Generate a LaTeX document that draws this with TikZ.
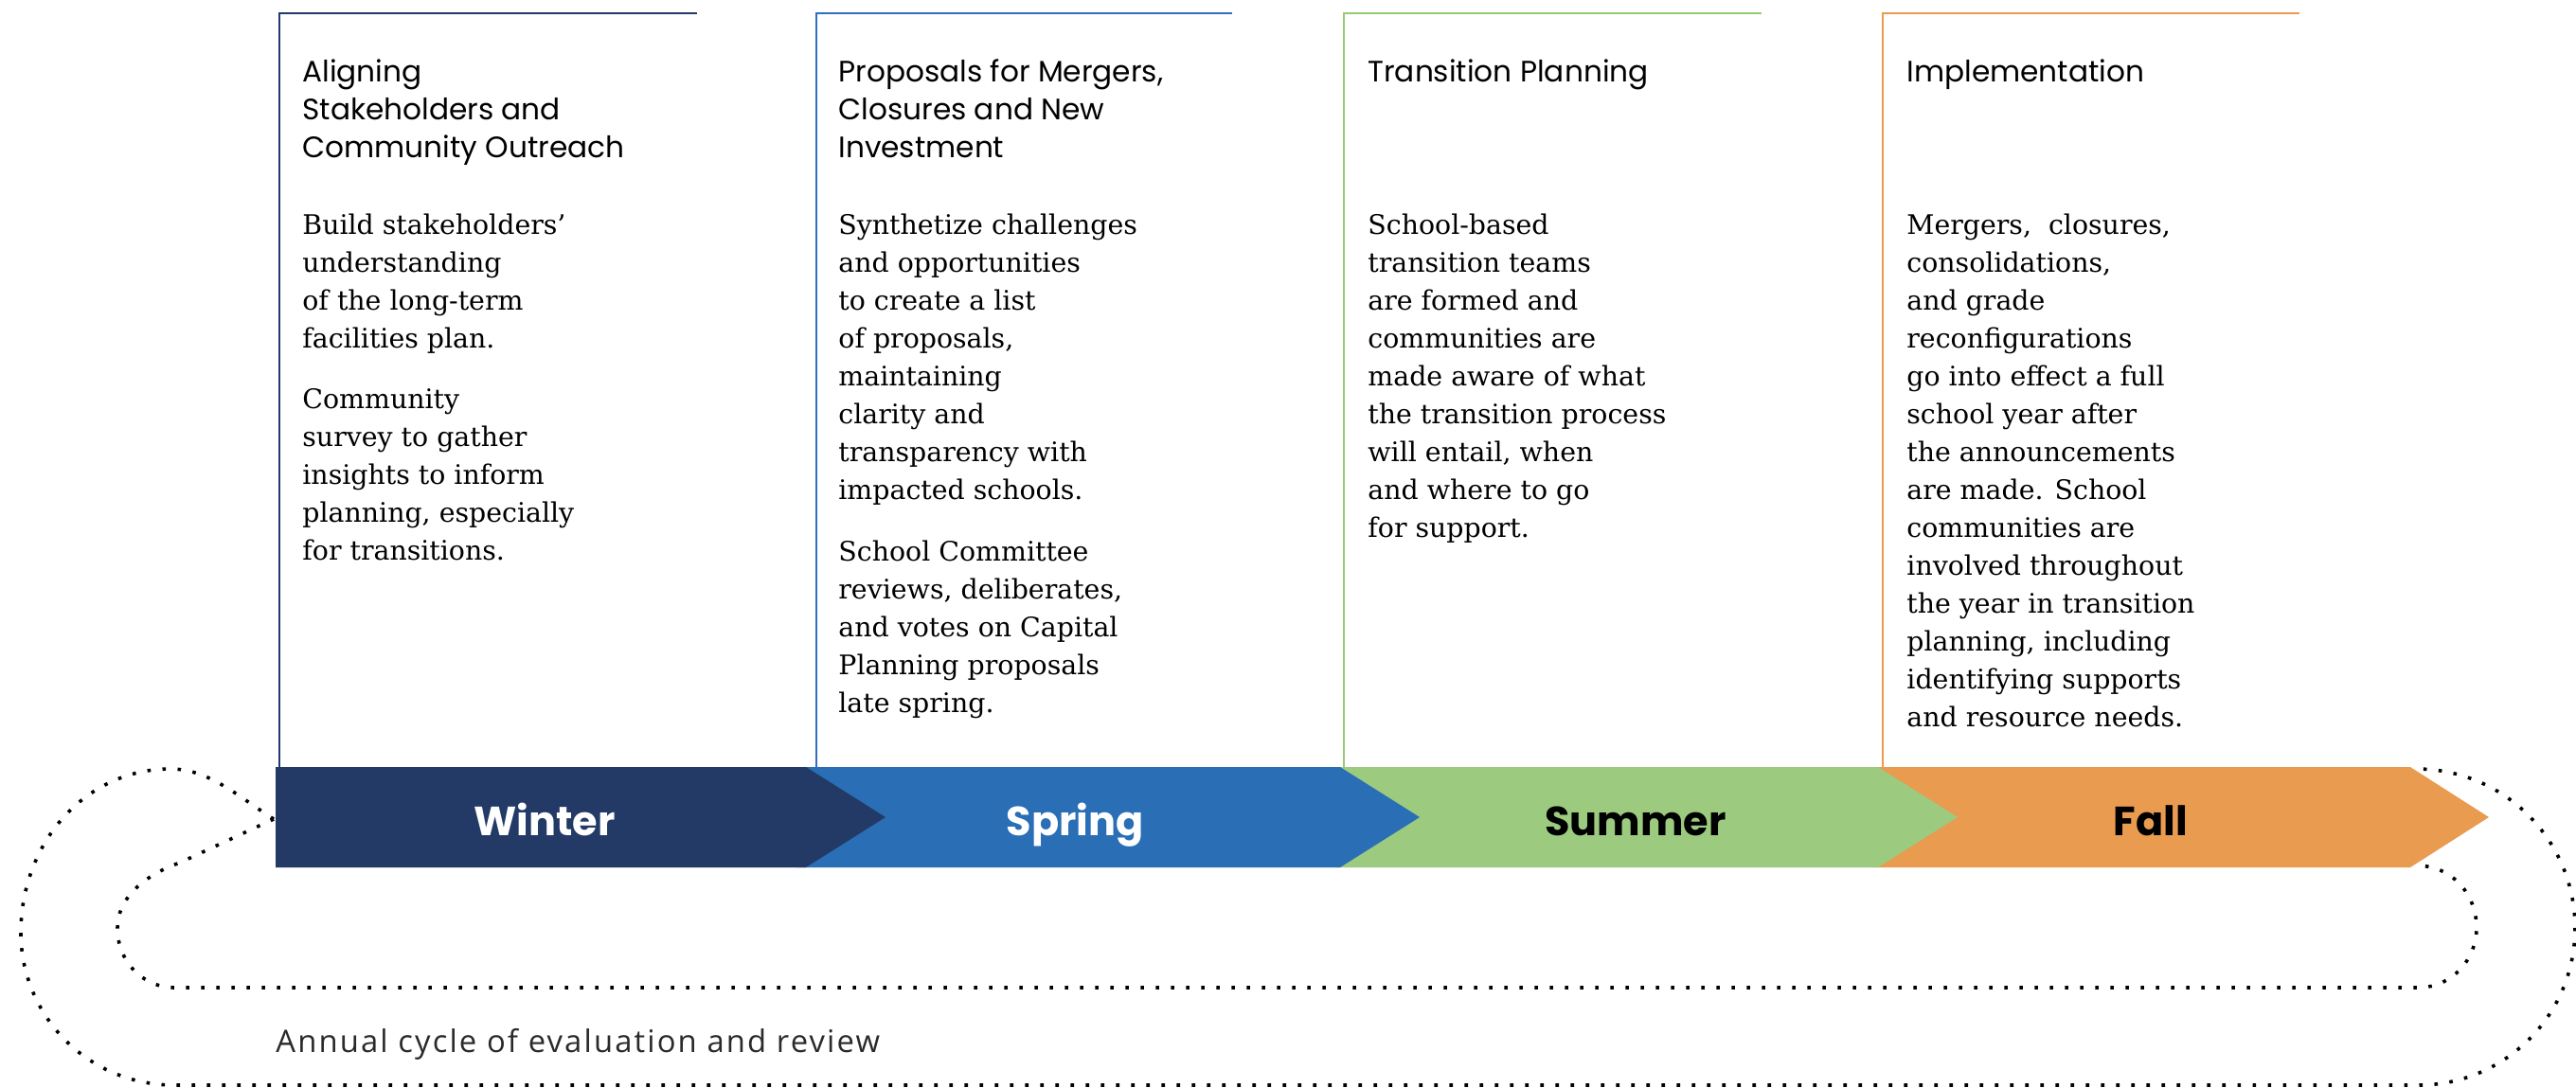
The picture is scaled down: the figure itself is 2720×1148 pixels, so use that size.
\documentclass[tikz,border=0pt]{standalone}
\usepackage{fontspec}
\setmainfont{DejaVu Serif}
\newfontfamily\headfont{Poppins}
\newfontfamily\notefont{Open Sans}[LetterSpace=6.5]
\definecolor{cwinter}{HTML}{233A66}
\definecolor{cspring}{HTML}{2A6EB5}
\definecolor{csummer}{HTML}{9CCA7F}
\definecolor{cfall}{HTML}{E99B50}
\definecolor{lwinter}{HTML}{1F3A6E}
\definecolor{lspring}{HTML}{2E70BE}
\definecolor{lsummer}{HTML}{95CC72}
\definecolor{lfall}{HTML}{EC9A4E}
\definecolor{notegray}{HTML}{2A2A2A}
\tikzset{
  boxline/.style={line width=1.2pt},
  headtxt/.style={anchor=north west, inner sep=0pt, align=left, font=\headfont\fontsize{15.6pt}{20pt}\selectfont},
  bodytxt/.style={anchor=north west, inner sep=0pt, align=left, font=\rmfamily\fontsize{14.2pt}{20pt}\selectfont},
  season/.style={anchor=base, inner sep=0pt, font=\headfont\bfseries\fontsize{21.5pt}{24pt}\selectfont},
  loop/.style={line width=1.8pt, dash pattern=on 1.8pt off 6.2pt},
}
\newcommand{\fl}{\rule{0pt}{12pt}}
\begin{document}
\begin{tikzpicture}[x=0.5pt, y=-0.5pt]
\useasboundingbox (0,0) rectangle (2720,1148);
% chevrons
\fill[cfall]   (1978,810) -- (2545,810) -- (2628,863) -- (2545,916) -- (1978,916) -- cycle;
\fill[csummer] (1410,810) -- (1983,810) -- (2067,863) -- (1983,916) -- (1410,916) -- cycle;
\fill[cspring] (840,810) -- (1415,810) -- (1499,863) -- (1415,916) -- (840,916) -- cycle;
\fill[cwinter] (291,810) -- (851,810) -- (935,863) -- (851,916) -- (291,916) -- cycle;
% coordinates
\coordinate (wl) at (289,865);
\coordinate (fb) at (2551,914);
\coordinate (ft) at (2551,812);
% box lines
\draw[boxline, lwinter] (736,14) -- (295,14) -- (295,810);
\draw[boxline, lspring] (1301,14) -- (862,14) -- (862,810);
\draw[boxline, lsummer] (1860,14) -- (1419,14) -- (1419,810);
\draw[boxline, lfall]   (2428,14) -- (1988,14) -- (1988,810);
% headings
\node[headtxt] (h1) at (319,62) {\fl Aligning\\Stakeholders and\\Community Outreach};
\node[headtxt] (h2) at (885,62) {\fl Proposals for Mergers,\\Closures and New\\Investment};
\node[headtxt] (h3) at (1444,62) {\fl Transition Planning};
\node[headtxt] (h4) at (2013,62) {\fl Implementation};
% bodies
\node[bodytxt] (b1) at (319,223) {\fl Build stakeholders’\\understanding\\of the long-term\\facilities plan.\\[12pt]Community\\survey to gather\\insights to inform\\planning, especially\\for transitions.};
\node[bodytxt] (b2) at (885,223) {\fl Synthetize challenges\\and opportunities\\to create a list\\of proposals,\\maintaining\\clarity and\\transparency with\\impacted schools.\\[12.5pt]School Committee\\reviews, deliberates,\\and votes on Capital\\Planning proposals\\late spring.};
\node[bodytxt] (b3) at (1444,223) {\fl School-based\\transition teams\\are formed and\\communities are\\made aware of what\\the transition process\\will entail, when\\and where to go\\for support.};
\node[bodytxt] (b4) at (2013,223) {\fl Mergers,\ \ closures,\\consolidations,\\and grade\\reconfigurations\\go into effect a full\\school year after\\the announcements\\are made. School\\communities are\\involved throughout\\the year in transition\\planning, including\\identifying supports\\and resource needs.};
% season labels
\node[season, text=white] (s1) at (575,882) {Winter};
\node[season, text=white] (s2) at (1135,882) {Spring};
\node[season, text=black] (s3) at (1727,882) {Summer};
\node[season, text=black] (s4) at (2271,882) {Fall};
% annual cycle
\node[anchor=base west, inner sep=0pt, text=notegray, font=\notefont\fontsize{16.4pt}{18pt}\selectfont] (note) at (291,1111) {Annual cycle of evaluation and review};
% dotted loops
\draw[loop] (wl) .. controls (250,840) and (220,812) .. (180,812)
  .. controls (90,812) and (22,890) .. (22,985)
  .. controls (22,1070) and (90,1146) .. (185,1146)
  -- (2553,1146)
  .. controls (2645,1146) and (2719,1072) .. (2719,980)
  .. controls (2719,888) and (2645,812) .. (ft);
\draw[loop] (wl) -- (190,911)
  .. controls (150,925) and (124,950) .. (124,980)
  .. controls (124,1015) and (150,1043) .. (185,1043)
  -- (2553,1043)
  .. controls (2590,1043) and (2615,1012) .. (2615,980)
  .. controls (2615,945) and (2590,914) .. (fb);
\end{tikzpicture}
\end{document}
